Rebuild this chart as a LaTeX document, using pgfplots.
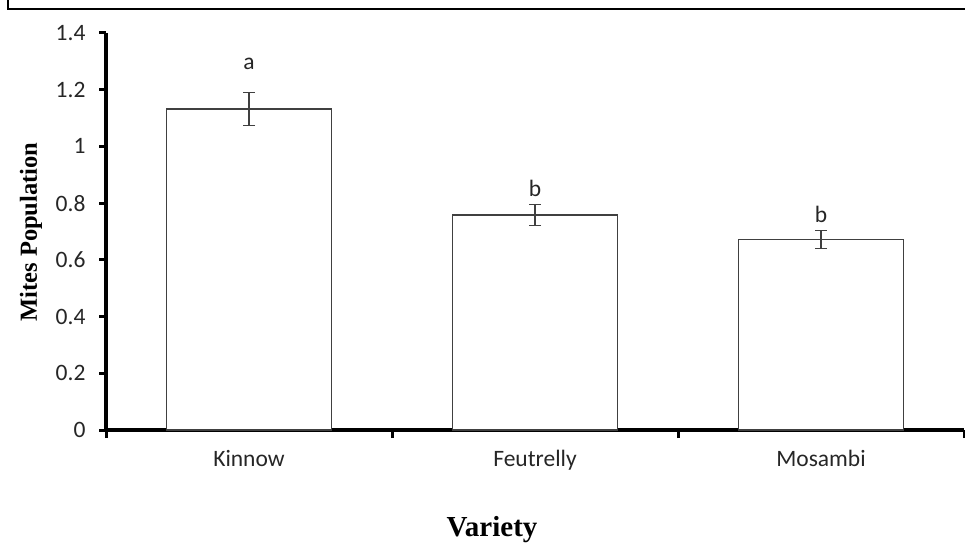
\documentclass[border=0pt]{standalone}
\usepackage{fontspec}
\setmainfont{Carlito}
\newfontfamily\timesfont{Liberation Serif}
\usepackage{pgfplots}
\pgfplotsset{compat=1.18}

\pgfplotstableread{
x    y      e
0.5  1.132  0.058
1.5  0.758  0.038
2.5  0.672  0.032
}\mites

\begin{document}
\begin{tikzpicture}[x=1pt,y=1pt]
\useasboundingbox (0,0) rectangle (965,546);
% outer frame (top and left only)
\draw[line width=2pt] (8,546) -- (8,537) -- (965,537);

\begin{axis}[
  at={(106pt,116pt)}, anchor=south west,
  scale only axis, width=858pt, height=397pt,
  xmin=0, xmax=3, ymin=0, ymax=1.4,
  axis x line=bottom, axis y line=left,
  axis line style={-, line width=3.5pt},
  clip=false,
  ybar, bar width=165pt, bar shift=0pt,
  xtick={0.5,1.5,2.5},
  xticklabels={Kinnow,Feutrelly,Mosambi},
  minor xtick={0,1,2,3},
  ytick={0,0.2,0.4,0.6,0.8,1,1.2,1.4},
  tick align=outside,
  major tick length=7pt, minor tick length=8pt,
  tick style={line width=3pt, black},
  major x tick style={draw=none},
  ticklabel style={font=\fontsize{23.5}{27}\selectfont, text=black!85},
  /pgf/number format/assume math mode=true,
  yticklabel style={xshift=-10pt},
  xticklabel style={yshift=-10pt},
]
\addplot[draw=black!75, line width=1.2pt, fill=white,
  error bars/.cd, y dir=both, y explicit,
  error bar style={line width=1.2pt, black!75},
  error mark options={rotate=90, mark size=6pt, line width=1.2pt, black!75}]
  table[x=x, y=y, y error=e] {\mites};

\node[font=\fontsize{23.5}{27}\selectfont, anchor=base, text=black!85] at (axis cs:0.5,1.27) {a};
\node[font=\fontsize{23.5}{27}\selectfont, anchor=base, text=black!85] at (axis cs:1.5,0.822) {b};
\node[font=\fontsize{23.5}{27}\selectfont, anchor=base, text=black!85] at (axis cs:2.5,0.730) {b};
\end{axis}

\node[rotate=90, font=\timesfont\bfseries\fontsize{24.5}{28}\selectfont] at (31,314) {Mites Population};
\node[anchor=base, font=\timesfont\bfseries\fontsize{29}{32}\selectfont] at (492,10) {Variety};
\end{tikzpicture}
\end{document}
